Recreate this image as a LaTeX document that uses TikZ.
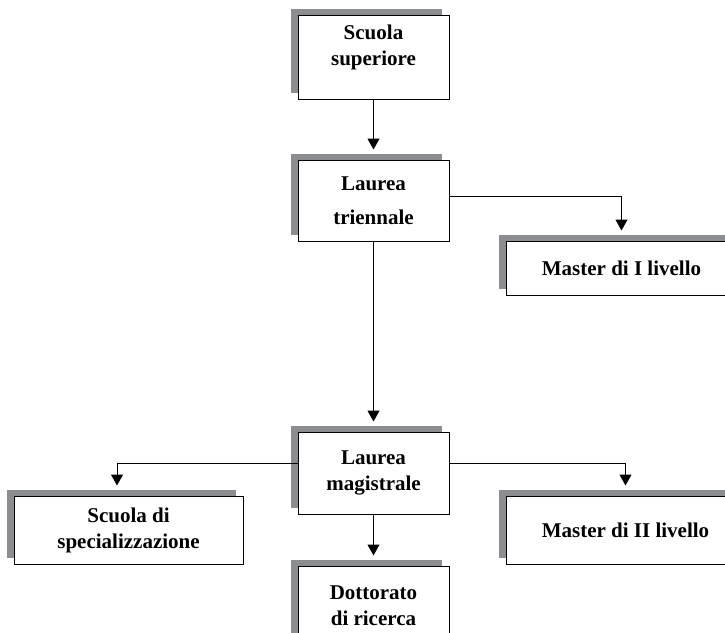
\documentclass[tikz,border=0pt]{standalone}
\usepackage{fontspec}
\setmainfont{Liberation Serif}
\usetikzlibrary{arrows.meta,positioning,shadows}
\definecolor{grigio}{RGB}{140,141,145}
\tikzset{
    %Define standard arrow tip
    >={Triangle[length=5.5pt,width=6pt]},
    %Define style for boxes
    riquadro/.style={
           rectangle,
           draw=black, line width=0.5pt,
           fill=white,
           general shadow={fill=grigio, shadow xshift=-3.5pt, shadow yshift=3pt},
           minimum width=75.5pt,
           align=center,
           font=\bfseries\fontsize{10.5}{13}\selectfont},
    % Define arrow style
    freccia/.style={
           ->,
           line width=0.5pt,
           shorten >=5pt}
}

\begin{document}
\begin{tikzpicture}[x=0.5pt,y=-0.5pt]
\useasboundingbox (0,0) rectangle (725,633);

 %nodes
\node[riquadro, minimum height=42pt, text depth=12pt] (sup) at (373.5,57) {Scuola\\superiore};
\node[riquadro, minimum height=40.5pt] (tri) at (373.5,200.5) {Laurea\\[4pt]triennale};
\node[riquadro, minimum width=115.5pt, minimum height=27pt] (m1) at (621.5,268) {Master di I livello};
\node[riquadro, minimum height=41pt] (mag) at (373.5,473) {Laurea\\magistrale};
\node[riquadro, minimum width=114.5pt, minimum height=34pt] (spec) at (128.5,530) {Scuola di\\specializzazione};
\node[riquadro, minimum width=119.5pt, minimum height=34pt] (m2) at (625.5,530) {Master di II livello};
\node[riquadro, minimum height=40pt] (dott) at (373.5,606) {Dottorato\\di ricerca};

 %arrows
\draw[freccia] (sup) -- (tri);
\draw[freccia] ([yshift=2pt]tri.east) -| (m1.north);
\draw[freccia] (tri) -- (mag);
\draw[freccia] ([yshift=5pt]mag.west) -| ([xshift=-5.75pt]spec.north);
\draw[freccia] ([yshift=5pt]mag.east) -| (m2.north);
\draw[freccia] (mag) -- (dott);

\end{tikzpicture}
\end{document}
